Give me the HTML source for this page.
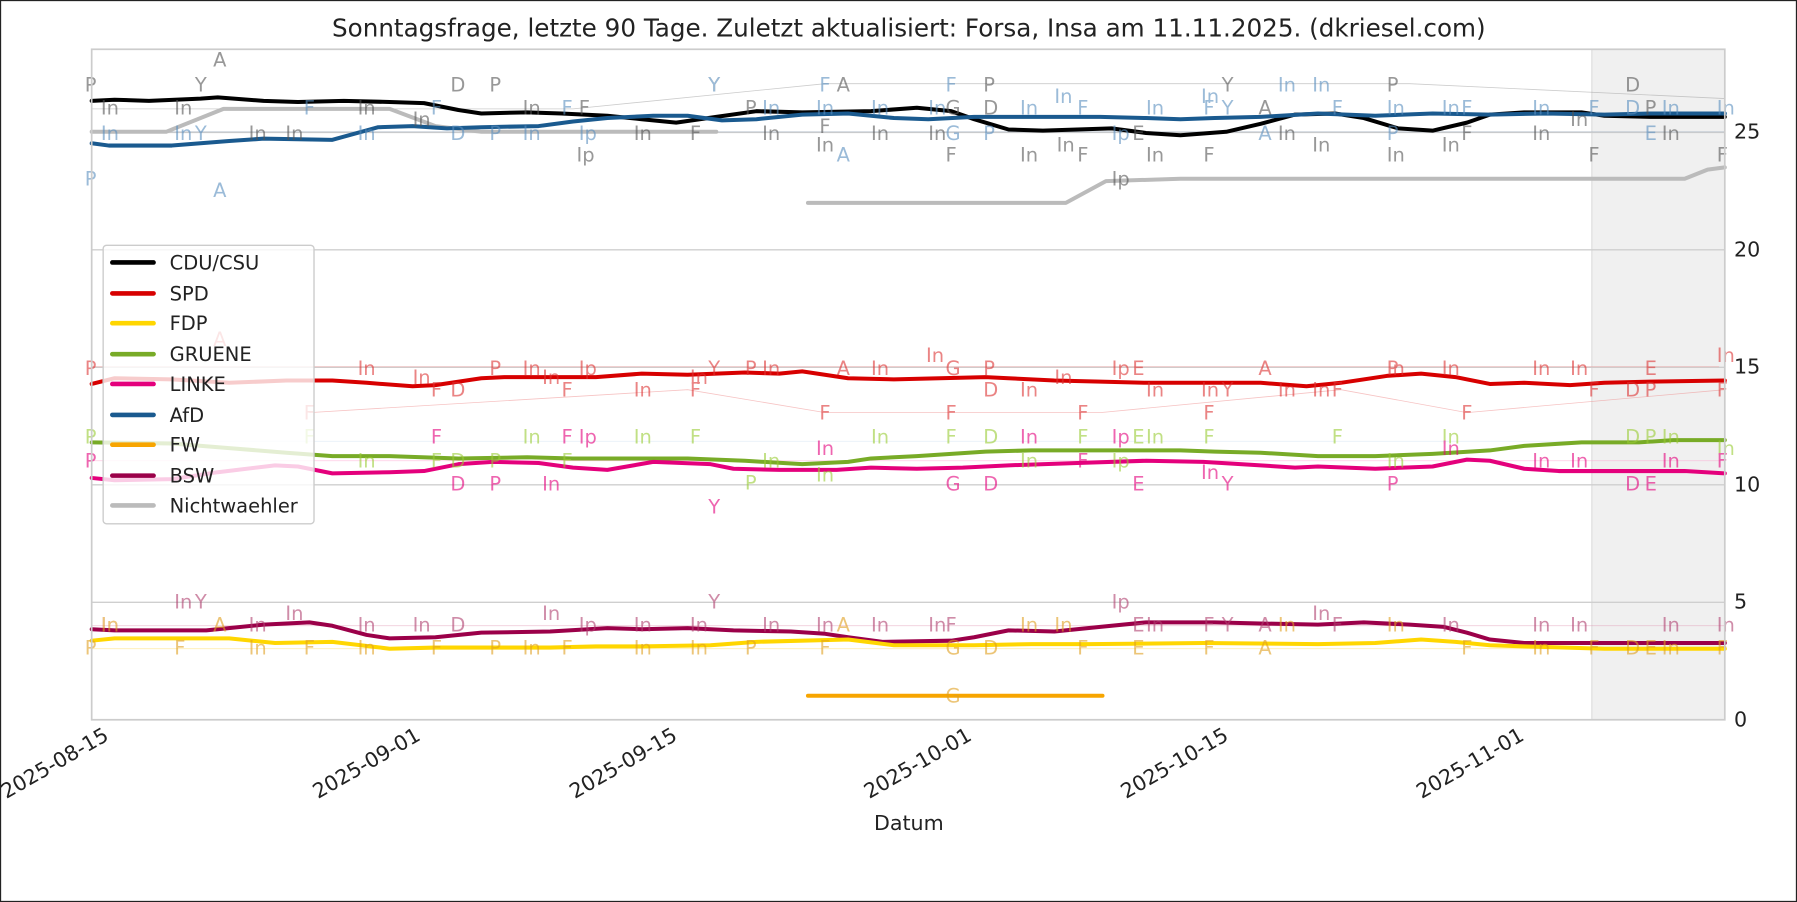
<!DOCTYPE html>
<html><head><meta charset="utf-8"><style>
html,body{margin:0;padding:0;background:#fff}
svg{display:block}
text{font-family:"DejaVu Sans","Liberation Sans",sans-serif}
</style></head><body>
<svg width="1797" height="902" viewBox="0 0 1568 787" preserveAspectRatio="none" xmlns="http://www.w3.org/2000/svg">
<rect x="0.5" y="0.5" width="1567" height="786" fill="#fff" stroke="#222" stroke-width="1"/>
<text x="793" y="32" font-size="21.5" text-anchor="middle" fill="#222">Sonntagsfrage, letzte 90 Tage. Zuletzt aktualisiert: Forsa, Insa am 11.11.2025. (dkriesel.com)</text>
<rect x="1389" y="43" width="116" height="585" fill="#f0f0f0"/>
<line x1="1389" y1="43" x2="1389" y2="628" stroke="#ddd" stroke-width="1"/>
<g stroke="#cfcfcf" stroke-width="1.2">
<line x1="80" y1="115.5" x2="1505" y2="115.5"/>
<line x1="80" y1="218" x2="1505" y2="218"/>
<line x1="80" y1="320.5" x2="1505" y2="320.5"/>
<line x1="80" y1="423" x2="1505" y2="423"/>
<line x1="80" y1="525.5" x2="1505" y2="525.5"/>
</g>
<g stroke-width="0.7" fill="none" opacity="0.5">
<polyline stroke="#999" points="80,95 500,95 720,73 1070,73 1230,73 1505,86"/>
<polyline stroke="#9ab" points="80,115 360,115 620,115 1000,115 1505,115"/>
<polyline stroke="#e88" points="80,320 380,320 700,320 1500,320"/>
<polyline stroke="#e88" points="270,360 600,340 720,360 960,360 1170,340 1280,360 1505,340"/>
<polyline stroke="#cde" points="80,385 500,385 1505,385"/>
<polyline stroke="#f9c" points="80,402 1505,402"/>
<polyline stroke="#d8a" points="80,546 1505,546"/>
<polyline stroke="#fd6" points="80,566 1505,566"/>
</g>
<g fill="none" stroke-linejoin="round" stroke-linecap="round">
<polyline stroke="#bbb" stroke-width="3.5" points="80,115 145,115 195,95 340,95 380,110 420,115 625,115"/>
<polyline stroke="#bbb" stroke-width="3.5" points="705,177 930,177 965,158 1030,156 1470,156 1490,148 1505,146"/>
<polyline stroke="#000" stroke-width="3.5" points="80,88 100,87 130,88 175,86 190,85 230,88 260,89 300,88 340,89 370,90 400,96 420,99 460,98 490,99 530,101 560,104 590,107 625,102 660,97 700,98 760,97 800,94 830,97 850,104 880,113 910,114 940,113 970,112 1000,116 1030,118 1070,115 1100,108 1130,100 1165,99 1190,103 1220,112 1250,114 1280,107 1300,100 1330,98 1380,98 1400,101 1440,102 1505,102"/>
<polyline stroke="#1a5a8f" stroke-width="3.5" points="80,125 95,127 150,127 200,123 230,121 290,122 330,111 360,110 390,112 420,111 470,110 500,106 530,103 570,101 600,101 630,105 660,104 700,100 740,99 780,103 810,104 850,102 910,102 960,102 1000,103 1030,104 1060,103 1100,102 1150,99 1200,101 1250,99 1300,100 1350,99 1400,100 1440,99 1505,99"/>
<polyline stroke="#d70000" stroke-width="3.5" points="80,335 100,330 150,331 200,334 250,332 290,332 320,334 360,337 380,336 420,330 440,329 520,329 560,326 600,327 650,325 680,326 700,324 740,330 780,331 820,330 860,329 880,330 920,332 960,333 1000,334 1100,334 1140,337 1170,334 1210,328 1240,326 1270,329 1300,335 1330,334 1370,336 1400,334 1440,333 1505,332"/>
<polyline stroke="#78ab27" stroke-width="3.5" points="80,386 150,387 200,391 250,395 290,398 340,398 400,400 460,399 500,400 600,400 650,402 700,405 740,403 760,400 800,398 860,394 900,393 1030,393 1060,394 1100,395 1150,398 1200,398 1250,396 1300,393 1330,389 1380,386 1430,386 1460,384 1505,384"/>
<polyline stroke="#e4007c" stroke-width="3.5" points="80,417 100,419 150,418 190,412 240,406 260,407 290,413 340,412 370,411 400,405 430,403 470,404 500,408 530,410 570,403 620,405 640,409 680,410 730,410 760,408 800,409 840,408 880,406 940,404 1000,402 1050,403 1100,406 1130,408 1150,407 1200,409 1250,407 1280,401 1300,402 1330,409 1360,411 1470,411 1505,413"/>
<polyline stroke="#9b0049" stroke-width="3.5" points="80,549 100,550 180,550 230,545 270,543 290,546 320,554 340,557 380,556 420,552 480,551 530,548 560,549 600,548 640,550 690,551 720,553 740,556 770,560 830,559 850,556 880,550 920,551 960,547 1000,543 1060,543 1100,544 1150,545 1190,543 1230,545 1260,547 1280,552 1300,558 1330,561 1505,561"/>
<polyline stroke="#ffd600" stroke-width="3.5" points="80,559 100,557 200,557 240,561 290,560 340,566 380,565 480,565 520,564 560,564 620,563 660,560 740,558 780,563 850,563 900,562 950,562 1050,561 1150,562 1200,561 1240,558 1270,560 1300,563 1330,564 1400,566 1505,566"/>
<polyline stroke="#f7a500" stroke-width="3.5" points="705,607 962,607"/>
</g>
<g font-size="17" opacity="0.6">
<g fill="#555"><text x="74" y="80">P</text><text x="186" y="58">A</text><text x="170" y="80">Y</text><text x="393" y="80">D</text><text x="427" y="80">P</text><text x="88" y="100">In</text><text x="152" y="100">In</text><text x="312" y="100">In</text><text x="456" y="100">In</text><text x="505" y="100">F</text><text x="217" y="122">In</text><text x="249" y="122">In</text><text x="360" y="110">In</text><text x="503" y="141">Ip</text><text x="553" y="122">In</text><text x="602" y="122">F</text><text x="618" y="80">Y</text><text x="650" y="100">P</text><text x="730" y="80">A</text><text x="665" y="122">In</text><text x="715" y="116">F</text><text x="712" y="132">In</text><text x="760" y="122">In</text><text x="810" y="122">In</text><text x="825" y="100">G</text><text x="858" y="100">D</text><text x="858" y="80">P</text><text x="825" y="141">F</text><text x="890" y="141">In</text><text x="922" y="132">In</text><text x="940" y="141">F</text><text x="970" y="162">Ip</text><text x="988" y="122">E</text><text x="1000" y="141">In</text><text x="1050" y="141">F</text><text x="1066" y="80">Y</text><text x="1098" y="100">A</text><text x="1115" y="122">In</text><text x="1145" y="132">In</text><text x="1210" y="80">P</text><text x="1210" y="141">In</text><text x="1258" y="132">In</text><text x="1275" y="122">F</text><text x="1337" y="122">In</text><text x="1370" y="110">In</text><text x="1386" y="141">F</text><text x="1418" y="80">D</text><text x="1435" y="100">P</text><text x="1450" y="122">In</text><text x="1498" y="141">F</text></g>
<g fill="#5a8fbf"><text x="74" y="162">P</text><text x="186" y="172">A</text><text x="88" y="122">In</text><text x="152" y="122">In</text><text x="170" y="122">Y</text><text x="265" y="100">F</text><text x="312" y="122">In</text><text x="376" y="100">F</text><text x="393" y="122">D</text><text x="427" y="122">P</text><text x="456" y="122">In</text><text x="490" y="100">F</text><text x="505" y="122">Ip</text><text x="618" y="80">Y</text><text x="665" y="100">In</text><text x="715" y="80">F</text><text x="712" y="100">In</text><text x="730" y="141">A</text><text x="760" y="100">In</text><text x="825" y="80">F</text><text x="810" y="100">In</text><text x="825" y="122">G</text><text x="858" y="122">P</text><text x="890" y="100">In</text><text x="920" y="90">In</text><text x="940" y="100">F</text><text x="970" y="122">Ip</text><text x="1000" y="100">In</text><text x="1048" y="90">In</text><text x="1050" y="100">F</text><text x="1066" y="100">Y</text><text x="1098" y="122">A</text><text x="1115" y="80">In</text><text x="1145" y="80">In</text><text x="1162" y="100">F</text><text x="1210" y="100">In</text><text x="1210" y="122">P</text><text x="1258" y="100">In</text><text x="1275" y="100">F</text><text x="1337" y="100">In</text><text x="1386" y="100">F</text><text x="1418" y="100">D</text><text x="1435" y="122">E</text><text x="1450" y="100">In</text><text x="1498" y="100">In</text></g>
<g fill="#d33"><text x="74" y="327">P</text><text x="186" y="302">A</text><text x="265" y="366">F</text><text x="312" y="327">In</text><text x="360" y="335">In</text><text x="376" y="346">F</text><text x="393" y="346">D</text><text x="427" y="327">P</text><text x="456" y="327">In</text><text x="473" y="335">In</text><text x="490" y="346">F</text><text x="505" y="327">Ip</text><text x="553" y="346">In</text><text x="602" y="346">F</text><text x="602" y="335">In</text><text x="618" y="327">Y</text><text x="650" y="327">P</text><text x="665" y="327">In</text><text x="715" y="366">F</text><text x="730" y="327">A</text><text x="760" y="327">In</text><text x="808" y="316">In</text><text x="825" y="327">G</text><text x="858" y="327">P</text><text x="825" y="366">F</text><text x="858" y="346">D</text><text x="890" y="346">In</text><text x="920" y="335">In</text><text x="940" y="366">F</text><text x="970" y="327">Ip</text><text x="988" y="327">E</text><text x="1000" y="346">In</text><text x="1050" y="366">F</text><text x="1048" y="346">In</text><text x="1066" y="346">Y</text><text x="1098" y="327">A</text><text x="1115" y="346">In</text><text x="1145" y="346">In</text><text x="1162" y="346">F</text><text x="1210" y="327">P</text><text x="1210" y="327">In</text><text x="1258" y="327">In</text><text x="1275" y="366">F</text><text x="1337" y="327">In</text><text x="1370" y="327">In</text><text x="1386" y="346">F</text><text x="1418" y="346">D</text><text x="1435" y="346">P</text><text x="1435" y="327">E</text><text x="1498" y="316">In</text><text x="1498" y="346">F</text></g>
<g fill="#9c3"><text x="74" y="387">P</text><text x="265" y="387">F</text><text x="312" y="408">In</text><text x="376" y="408">F</text><text x="393" y="408">D</text><text x="427" y="408">P</text><text x="456" y="387">In</text><text x="490" y="408">F</text><text x="553" y="387">In</text><text x="602" y="387">F</text><text x="650" y="427">P</text><text x="665" y="408">In</text><text x="712" y="420">In</text><text x="760" y="387">In</text><text x="825" y="387">F</text><text x="858" y="387">D</text><text x="890" y="408">In</text><text x="940" y="387">F</text><text x="970" y="408">Ip</text><text x="988" y="387">E</text><text x="1000" y="387">In</text><text x="1050" y="387">F</text><text x="1162" y="387">F</text><text x="1210" y="408">In</text><text x="1258" y="387">In</text><text x="1418" y="387">D</text><text x="1435" y="387">P</text><text x="1450" y="387">In</text><text x="1498" y="397">In</text></g>
<g fill="#e4007c"><text x="74" y="408">P</text><text x="376" y="387">F</text><text x="393" y="428">D</text><text x="427" y="428">P</text><text x="473" y="428">In</text><text x="490" y="387">F</text><text x="505" y="387">Ip</text><text x="618" y="448">Y</text><text x="712" y="397">In</text><text x="825" y="428">G</text><text x="858" y="428">D</text><text x="890" y="387">In</text><text x="940" y="408">F</text><text x="970" y="387">Ip</text><text x="988" y="428">E</text><text x="1048" y="418">In</text><text x="1066" y="428">Y</text><text x="1210" y="428">P</text><text x="1258" y="397">In</text><text x="1337" y="408">In</text><text x="1370" y="408">In</text><text x="1418" y="428">D</text><text x="1435" y="428">E</text><text x="1450" y="408">In</text><text x="1498" y="408">F</text></g>
<g fill="#b04070"><text x="88" y="551">In</text><text x="152" y="531">In</text><text x="170" y="531">Y</text><text x="217" y="551">In</text><text x="249" y="541">In</text><text x="312" y="551">In</text><text x="360" y="551">In</text><text x="393" y="551">D</text><text x="473" y="541">In</text><text x="505" y="551">Ip</text><text x="553" y="551">In</text><text x="602" y="551">In</text><text x="618" y="531">Y</text><text x="665" y="551">In</text><text x="712" y="551">In</text><text x="760" y="551">In</text><text x="810" y="551">In</text><text x="825" y="551">F</text><text x="970" y="531">Ip</text><text x="988" y="551">E</text><text x="1000" y="551">In</text><text x="1050" y="551">F</text><text x="1066" y="551">Y</text><text x="1098" y="551">A</text><text x="1145" y="541">In</text><text x="1162" y="551">F</text><text x="1258" y="551">In</text><text x="1337" y="551">In</text><text x="1370" y="551">In</text><text x="1450" y="551">In</text><text x="1498" y="551">In</text></g>
<g fill="#e0a020"><text x="74" y="571">P</text><text x="88" y="551">In</text><text x="152" y="571">F</text><text x="186" y="551">A</text><text x="217" y="571">In</text><text x="265" y="571">F</text><text x="312" y="571">In</text><text x="376" y="571">F</text><text x="427" y="571">P</text><text x="456" y="571">In</text><text x="490" y="571">F</text><text x="553" y="571">In</text><text x="602" y="571">In</text><text x="650" y="571">P</text><text x="715" y="571">F</text><text x="730" y="551">A</text><text x="825" y="571">G</text><text x="858" y="571">D</text><text x="825" y="613">G</text><text x="890" y="551">In</text><text x="920" y="551">In</text><text x="940" y="571">F</text><text x="988" y="571">E</text><text x="1050" y="571">F</text><text x="1098" y="571">A</text><text x="1115" y="551">In</text><text x="1210" y="551">In</text><text x="1275" y="571">F</text><text x="1337" y="571">In</text><text x="1386" y="571">F</text><text x="1418" y="571">D</text><text x="1435" y="571">E</text><text x="1450" y="571">In</text><text x="1498" y="571">F</text></g>
</g>
<rect x="80" y="43" width="1425" height="585" fill="none" stroke="#ccc" stroke-width="1.5"/>
<g font-size="18" fill="#222">
<text x="1513" y="121">25</text><text x="1513" y="224">20</text><text x="1513" y="326">15</text><text x="1513" y="429">10</text><text x="1513" y="531">5</text><text x="1513" y="634">0</text>
</g>
<g font-size="18" fill="#222" text-anchor="end">
<text transform="translate(96,645) rotate(-30)">2025-08-15</text>
<text transform="translate(368,645) rotate(-30)">2025-09-01</text>
<text transform="translate(592,645) rotate(-30)">2025-09-15</text>
<text transform="translate(849,645) rotate(-30)">2025-10-01</text>
<text transform="translate(1073,645) rotate(-30)">2025-10-15</text>
<text transform="translate(1331,645) rotate(-30)">2025-11-01</text>
</g>
<text x="793" y="724" font-size="18" fill="#222" text-anchor="middle">Datum</text>
<rect x="90" y="214" width="184" height="243" rx="3" fill="#fff" fill-opacity="0.8" stroke="#ccc" stroke-width="1.2"/>
<g stroke-width="4" stroke-linecap="round">
<line x1="98" y1="229" x2="134" y2="229" stroke="#000"/>
<line x1="98" y1="256" x2="134" y2="256" stroke="#d70000"/>
<line x1="98" y1="282" x2="134" y2="282" stroke="#ffd600"/>
<line x1="98" y1="309" x2="134" y2="309" stroke="#78ab27"/>
<line x1="98" y1="335" x2="134" y2="335" stroke="#e4007c"/>
<line x1="98" y1="362" x2="134" y2="362" stroke="#1a5a8f"/>
<line x1="98" y1="388" x2="134" y2="388" stroke="#f7a500"/>
<line x1="98" y1="415" x2="134" y2="415" stroke="#9b0049"/>
<line x1="98" y1="441" x2="134" y2="441" stroke="#bbb"/>
</g>
<g font-size="17" fill="#222">
<text x="148" y="235">CDU/CSU</text><text x="148" y="262">SPD</text><text x="148" y="288">FDP</text><text x="148" y="315">GRUENE</text><text x="148" y="341">LINKE</text><text x="148" y="368">AfD</text><text x="148" y="394">FW</text><text x="148" y="421">BSW</text><text x="148" y="447">Nichtwaehler</text>
</g>
</svg>
</body></html>
